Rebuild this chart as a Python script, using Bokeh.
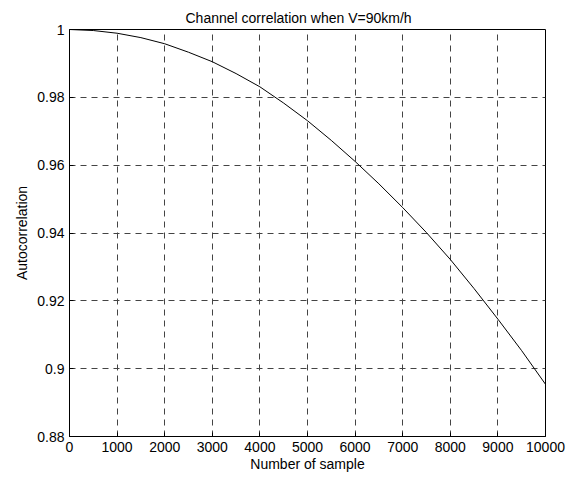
from bokeh.plotting import figure
from bokeh.models import Range1d, FixedTicker
from bokeh.embed import file_html
from bokeh.resources import INLINE

# Data
samples = [0, 500, 1000, 1500, 2000, 2500, 3000, 3500, 4000, 4500, 5000,
           5500, 6000, 6500, 7000, 7500, 8000, 8500, 9000, 9500, 10000]
autocorr = [1.0, 0.9997, 0.9989, 0.9976, 0.9958, 0.9933, 0.9905, 0.9870,
            0.9831, 0.9783, 0.9731, 0.9673, 0.9611, 0.9545, 0.9475, 0.9401,
            0.9322, 0.9236, 0.9146, 0.9053, 0.8954]
x_ticks = [0, 1000, 2000, 3000, 4000, 5000, 6000, 7000, 8000, 9000, 10000]
y_ticks = [0.88, 0.9, 0.92, 0.94, 0.96, 0.98, 1.0]
y_tick_labels = ["0.88", "0.9", "0.92", "0.94", "0.96", "0.98", "1"]

FONT = "Liberation Sans"

p = figure(width=578, height=482, output_backend="svg", toolbar_location=None,
           x_range=Range1d(0, 10000), y_range=Range1d(0.88, 1.0),
           title="Channel correlation when  V=90km/h")
p.min_border_left = 69
p.min_border_right = 33
p.min_border_top = 29
p.min_border_bottom = 46
p.background_fill_color = "white"
p.border_fill_color = "white"
p.outline_line_color = "black"
p.outline_line_width = 1

p.title.align = "left"
p.title.offset = 116
p.title.standoff = 8
p.title.text_font = FONT
p.title.text_font_size = "14px"
p.title.text_font_style = "normal"
p.title.text_color = "black"

p.line(samples, autocorr, line_color="black", line_width=1)

for ax in (p.xaxis[0], p.yaxis[0]):
    ax.major_label_text_font = FONT
    ax.major_label_text_font_size = "14px"
    ax.major_label_text_color = "black"
    ax.axis_label_text_font = FONT
    ax.axis_label_text_font_size = "14px"
    ax.axis_label_text_font_style = "normal"
    ax.axis_label_text_color = "black"
    ax.axis_line_color = "black"
    ax.major_tick_in = 4
    ax.major_tick_out = 0
    ax.minor_tick_line_color = None
    ax.major_tick_line_color = "black"

p.xaxis[0].ticker = FixedTicker(ticks=x_ticks)
p.yaxis[0].ticker = FixedTicker(ticks=y_ticks)
p.yaxis[0].major_label_overrides = {v: s for v, s in zip(y_ticks, y_tick_labels)}
p.xaxis[0].axis_label = "Number of sample"
p.yaxis[0].axis_label = "Autocorrelation"
p.xaxis[0].axis_label_standoff = 1
p.yaxis[0].axis_label_standoff = 4
p.xaxis[0].major_label_standoff = 5
p.yaxis[0].major_label_standoff = 5

p.xgrid.ticker = FixedTicker(ticks=x_ticks)
p.ygrid.ticker = FixedTicker(ticks=y_ticks)
for g in (p.xgrid[0], p.ygrid[0]):
    g.grid_line_color = "#444444"
    g.grid_line_dash = "6 5"
    g.grid_line_width = 1

open("out.html", "w").write(file_html(p, INLINE))
